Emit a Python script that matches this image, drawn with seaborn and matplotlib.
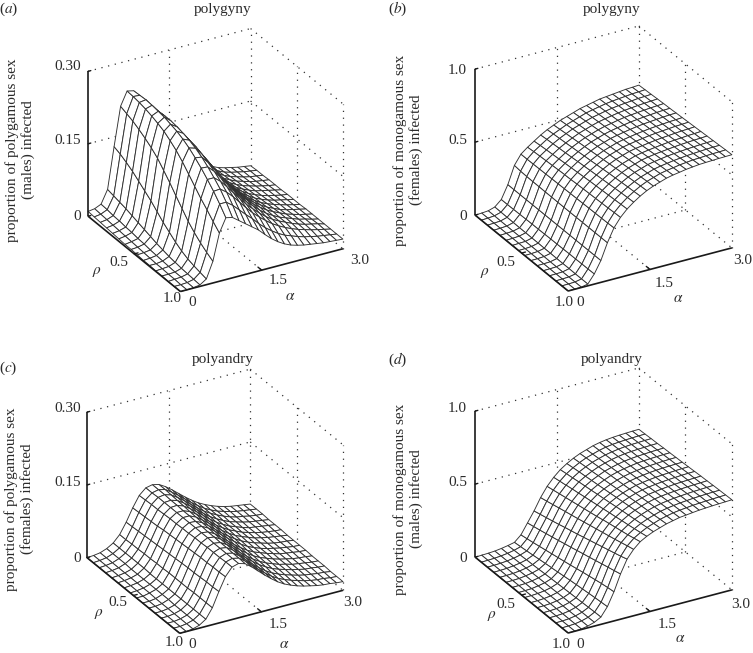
import numpy as np
import matplotlib
matplotlib.use("Agg")
import matplotlib.pyplot as plt
import seaborn as sns
from mpl_toolkits.mplot3d import proj3d

alpha_vals = [0, .12, .24, .36, .48, .60, .72, .84, .96, 1.08, 1.2, 1.32, 1.44, 1.56, 1.68, 1.8, 1.92, 2.04, 2.16, 2.28, 2.4, 2.52, 2.64, 2.76, 2.88, 3.0]
rho_vals = [0, .067, .133, .2, .267, .333, .4, .467, .533, .6, .667, .733, .8, .867, .933, 1.0]

z_a = [
[.010,.012,.018,.045,.130,.210,.238,.235,.215,.190,.165,.140,.118,.100,.085,.072,.060,.050,.042,.036,.030,.026,.023,.020,.018,.016],
[.009,.011,.017,.042,.125,.205,.237,.236,.217,.192,.167,.143,.121,.102,.087,.074,.062,.052,.044,.037,.031,.027,.024,.021,.019,.017],
[.008,.010,.015,.039,.118,.200,.235,.237,.219,.195,.170,.146,.124,.105,.089,.076,.064,.054,.045,.038,.032,.028,.024,.021,.019,.017],
[.007,.009,.014,.036,.110,.193,.232,.236,.220,.197,.173,.149,.127,.108,.091,.077,.065,.055,.046,.039,.033,.029,.025,.022,.020,.018],
[.006,.008,.012,.032,.100,.185,.228,.234,.221,.199,.176,.152,.130,.110,.093,.079,.067,.056,.047,.040,.034,.030,.026,.023,.020,.018],
[.005,.007,.011,.028,.090,.176,.223,.232,.221,.200,.178,.154,.132,.112,.095,.081,.068,.058,.048,.041,.035,.030,.027,.024,.021,.018],
[.004,.006,.009,.024,.080,.165,.217,.228,.219,.200,.178,.156,.134,.114,.097,.082,.070,.059,.050,.042,.036,.031,.027,.024,.021,.019],
[.004,.005,.008,.020,.068,.150,.208,.224,.216,.198,.177,.156,.135,.116,.098,.084,.071,.060,.051,.043,.037,.032,.028,.025,.022,.019],
[.003,.004,.006,.016,.056,.135,.198,.218,.212,.195,.175,.155,.135,.116,.099,.085,.072,.061,.052,.044,.038,.033,.029,.025,.022,.019],
[.002,.003,.005,.013,.046,.118,.185,.210,.206,.190,.171,.152,.133,.115,.099,.085,.072,.062,.053,.045,.039,.033,.029,.026,.023,.020],
[.002,.002,.004,.010,.036,.102,.170,.200,.198,.183,.165,.147,.129,.112,.097,.084,.072,.062,.053,.046,.040,.034,.030,.026,.023,.020],
[.001,.002,.003,.008,.028,.086,.155,.189,.188,.175,.158,.141,.124,.108,.094,.082,.070,.060,.052,.045,.040,.035,.030,.027,.023,.020],
[.001,.001,.002,.006,.022,.073,.140,.176,.176,.165,.150,.134,.118,.103,.090,.078,.067,.058,.051,.045,.039,.034,.030,.027,.024,.020],
[.000,.001,.002,.005,.018,.062,.127,.162,.163,.153,.140,.125,.110,.096,.084,.073,.063,.055,.048,.042,.037,.033,.029,.026,.023,.020],
[.000,.000,.001,.004,.015,.053,.113,.146,.146,.136,.123,.110,.098,.084,.072,.062,.053,.046,.041,.036,.032,.029,.026,.024,.022,.020],
[.000,.000,.001,.003,.012,.045,.100,.128,.125,.115,.105,.095,.085,.072,.060,.050,.042,.036,.032,.029,.027,.025,.023,.022,.021,.020],
]
z_b = [
[.000,.002,.006,.020,.060,.150,.270,.335,.370,.400,.430,.455,.475,.495,.510,.525,.540,.550,.560,.570,.575,.580,.585,.590,.592,.595],
[.000,.002,.006,.019,.060,.150,.265,.335,.375,.405,.435,.460,.480,.500,.515,.530,.545,.555,.564,.573,.579,.584,.588,.593,.595,.598],
[.000,.002,.005,.018,.061,.150,.263,.336,.378,.409,.439,.464,.485,.505,.520,.535,.549,.558,.568,.576,.582,.587,.591,.596,.598,.601],
[.000,.002,.005,.017,.062,.150,.262,.337,.381,.413,.443,.468,.490,.510,.525,.540,.553,.562,.571,.579,.585,.590,.594,.598,.601,.604],
[.000,.002,.005,.016,.063,.150,.262,.338,.384,.417,.447,.473,.495,.515,.530,.545,.557,.566,.575,.583,.588,.593,.597,.601,.604,.607],
[.000,.002,.005,.016,.064,.150,.261,.339,.387,.421,.451,.477,.500,.520,.535,.550,.561,.570,.578,.586,.591,.596,.600,.604,.607,.609],
[.000,.002,.004,.015,.064,.150,.261,.340,.390,.425,.456,.482,.505,.525,.540,.555,.565,.574,.582,.589,.595,.599,.603,.607,.610,.612],
[.000,.001,.004,.015,.065,.150,.260,.341,.392,.429,.460,.486,.510,.530,.545,.560,.570,.578,.586,.592,.598,.602,.606,.610,.612,.615],
[.000,.001,.004,.014,.066,.150,.260,.342,.395,.433,.464,.491,.515,.535,.550,.565,.574,.582,.589,.596,.601,.605,.609,.613,.615,.618],
[.000,.001,.004,.014,.066,.150,.260,.343,.397,.437,.468,.496,.520,.540,.555,.570,.579,.586,.593,.599,.604,.608,.612,.616,.618,.621],
[.000,.001,.003,.013,.067,.150,.260,.344,.399,.440,.472,.501,.525,.545,.560,.575,.584,.591,.597,.603,.608,.612,.615,.619,.621,.624],
[.000,.001,.003,.013,.068,.150,.260,.345,.401,.443,.476,.505,.530,.550,.565,.580,.589,.596,.602,.607,.612,.616,.619,.622,.624,.627],
[.000,.001,.003,.013,.068,.150,.260,.346,.403,.446,.480,.509,.534,.554,.569,.584,.593,.600,.607,.612,.616,.620,.623,.626,.628,.630],
[.000,.001,.003,.012,.069,.150,.260,.347,.405,.449,.484,.513,.538,.558,.573,.588,.597,.604,.611,.616,.621,.624,.627,.630,.632,.633],
[.000,.001,.003,.012,.069,.150,.260,.348,.408,.452,.487,.516,.542,.562,.577,.592,.601,.608,.616,.621,.626,.628,.631,.633,.634,.636],
[.000,.001,.003,.012,.070,.150,.260,.350,.410,.455,.490,.520,.545,.565,.580,.595,.605,.612,.620,.625,.630,.632,.634,.636,.637,.638],
]
z_c = [
[.000,.001,.003,.008,.016,.030,.052,.078,.100,.112,.115,.112,.104,.094,.083,.072,.062,.053,.046,.040,.035,.031,.028,.026,.024,.022],
[.000,.001,.003,.008,.016,.030,.053,.079,.101,.112,.115,.112,.103,.093,.082,.071,.061,.052,.045,.039,.035,.031,.028,.026,.024,.022],
[.000,.001,.003,.008,.016,.031,.054,.080,.102,.113,.115,.111,.102,.092,.081,.070,.060,.052,.045,.039,.034,.030,.028,.025,.023,.022],
[.000,.001,.003,.008,.016,.031,.055,.081,.102,.113,.114,.110,.101,.091,.080,.069,.059,.051,.044,.038,.034,.030,.027,.025,.023,.021],
[.000,.001,.003,.007,.016,.032,.056,.082,.103,.113,.114,.109,.100,.090,.079,.068,.058,.050,.043,.038,.033,.029,.027,.025,.023,.021],
[.000,.001,.003,.007,.016,.032,.057,.084,.104,.113,.113,.108,.099,.088,.077,.066,.057,.049,.043,.037,.033,.029,.026,.024,.022,.021],
[.000,.001,.003,.007,.015,.033,.058,.085,.104,.113,.113,.107,.097,.087,.076,.065,.056,.048,.042,.037,.032,.029,.026,.024,.022,.020],
[.000,.001,.003,.007,.015,.033,.059,.086,.105,.113,.112,.106,.096,.085,.074,.064,.055,.047,.041,.036,.032,.028,.025,.023,.022,.020],
[.000,.000,.003,.007,.015,.034,.060,.087,.105,.113,.112,.105,.095,.084,.073,.063,.054,.046,.040,.035,.031,.028,.025,.023,.021,.020],
[.000,.000,.002,.007,.015,.034,.061,.088,.106,.113,.111,.104,.093,.082,.071,.061,.052,.045,.040,.035,.031,.027,.025,.023,.021,.020],
[.000,.000,.002,.007,.015,.034,.062,.089,.106,.113,.111,.103,.092,.081,.070,.060,.051,.044,.039,.034,.030,.027,.024,.022,.021,.019],
[.000,.000,.002,.006,.015,.034,.062,.090,.107,.112,.110,.102,.091,.079,.068,.058,.050,.043,.038,.033,.030,.026,.024,.022,.020,.019],
[.000,.000,.002,.006,.015,.035,.063,.090,.107,.112,.110,.101,.089,.078,.067,.057,.049,.042,.037,.033,.029,.026,.023,.022,.020,.019],
[.000,.000,.002,.006,.015,.035,.064,.091,.107,.112,.109,.100,.088,.076,.065,.055,.047,.041,.036,.032,.028,.025,.023,.021,.020,.018],
[.000,.000,.002,.006,.015,.035,.064,.091,.108,.112,.109,.099,.087,.075,.064,.054,.046,.040,.035,.031,.027,.024,.022,.021,.019,.018],
[.000,.000,.002,.006,.015,.035,.065,.092,.108,.112,.108,.098,.086,.074,.063,.053,.045,.039,.034,.030,.027,.024,.022,.021,.019,.018],
]
z_d = [
[.000,.001,.003,.006,.012,.020,.030,.070,.140,.210,.290,.355,.405,.445,.475,.500,.520,.535,.550,.560,.567,.572,.575,.577,.579,.580],
[.000,.001,.003,.007,.013,.022,.035,.078,.150,.222,.300,.364,.413,.452,.481,.505,.525,.539,.553,.563,.570,.574,.577,.579,.581,.582],
[.000,.001,.003,.007,.014,.024,.040,.086,.160,.233,.311,.373,.420,.458,.487,.510,.529,.543,.556,.565,.572,.577,.580,.582,.584,.585],
[.000,.001,.003,.008,.015,.026,.046,.095,.171,.245,.322,.382,.428,.465,.492,.514,.533,.547,.559,.568,.575,.579,.582,.584,.586,.587],
[.000,.001,.003,.008,.016,.028,.052,.104,.182,.257,.333,.391,.435,.471,.498,.519,.538,.551,.562,.571,.577,.581,.584,.587,.589,.590],
[.000,.001,.003,.009,.017,.030,.058,.113,.193,.270,.343,.400,.443,.477,.503,.524,.542,.555,.565,.573,.580,.584,.587,.589,.591,.592],
[.000,.001,.003,.009,.018,.033,.064,.122,.205,.282,.354,.409,.450,.484,.509,.529,.546,.559,.569,.576,.582,.586,.589,.592,.594,.595],
[.000,.001,.003,.010,.019,.035,.070,.131,.216,.294,.365,.418,.458,.490,.514,.534,.550,.563,.572,.579,.585,.589,.592,.594,.596,.597],
[.000,.001,.004,.010,.020,.037,.076,.140,.228,.307,.376,.427,.465,.496,.520,.539,.554,.567,.575,.582,.587,.591,.594,.597,.599,.600],
[.000,.001,.004,.010,.021,.039,.082,.150,.240,.320,.387,.437,.473,.503,.526,.544,.559,.571,.579,.585,.590,.594,.597,.600,.602,.603],
[.000,.001,.004,.011,.022,.041,.087,.160,.251,.333,.398,.446,.480,.509,.531,.549,.563,.575,.582,.588,.593,.597,.600,.602,.604,.606],
[.000,.001,.004,.011,.023,.043,.092,.169,.263,.346,.409,.455,.488,.515,.536,.553,.567,.578,.585,.591,.595,.599,.602,.604,.606,.608],
[.000,.001,.004,.011,.024,.045,.097,.178,.275,.359,.420,.464,.495,.521,.541,.557,.571,.581,.588,.594,.598,.602,.605,.607,.609,.611],
[.000,.001,.004,.012,.025,.047,.102,.187,.287,.372,.432,.473,.503,.527,.546,.561,.575,.584,.591,.597,.601,.605,.608,.610,.612,.613],
[.000,.001,.004,.012,.025,.049,.106,.194,.298,.385,.444,.484,.511,.534,.550,.566,.577,.587,.593,.598,.603,.606,.609,.611,.613,.615],
[.000,.001,.004,.012,.026,.050,.110,.200,.310,.400,.455,.495,.520,.540,.555,.570,.580,.590,.595,.600,.605,.608,.611,.613,.615,.617],
]

alpha_ticks = [0, 1.5, 3.0]
rho_ticks = [0, 0.5, 1.0]
z_ticks_poly = [0, 0.15, 0.30]
z_ticks_mono = [0, 0.5, 1.0]
z_labels_poly = ["0", "0.15", "0.30"]
z_labels_mono = ["0", "0.5", "1.0"]
panel_tags = ["(a)", "(b)", "(c)", "(d)"]
panel_titles = ["polygyny", "polygyny", "polyandry", "polyandry"]
y_labels = [
    "proportion of polygamous sex\n(males) infected",
    "proportion of monogamous sex\n(females) infected",
    "proportion of polygamous sex\n(females) infected",
    "proportion of monogamous sex\n(males) infected",
]

W, H = 753, 653
sns.set_theme(style="white", context="paper")
plt.rcParams["font.family"] = ["Liberation Serif", "DejaVu Serif"]
plt.rcParams["mathtext.fontset"] = "stix"
FS = 11
INK = "#2b2b2b"

fig = plt.figure(figsize=(W / 100, H / 100), dpi=100, facecolor="white")


def txt(x, y, s, **kw):
    kw.setdefault("ha", "center")
    kw.setdefault("va", "center")
    fig.text(x / W, 1 - y / H, s, fontsize=FS, color=INK, **kw)


def to_px(ax, a, r, z):
    x, y, _ = proj3d.proj_transform(a, r, z, ax.get_proj())
    px = ax.transData.transform((x, y))
    return np.array([px[0], H - px[1]])


def draw_panel(Z, zticks, zlabels, tag, title, ylabel, L, R, lay):
    zmax = zticks[-1]
    side = 430
    ax = fig.add_axes([(L[0] - 30) / W, 1 - (L[1] + 200) / H, side / W, side / H],
                      projection="3d", computed_zorder=False)
    ax.set_axis_off()
    ax.patch.set_alpha(0)
    ax.set_proj_type("ortho")
    ax.view_init(elev=27.6, azim=-119.6)
    ax.set_xlim(0, 3, view_margin=0)
    ax.set_ylim(1, 0, view_margin=0)
    ax.set_zlim(0, zmax, view_margin=0)
    ax.set_box_aspect((1, 1, 0.875), zoom=1.0)

    # fit the box corners to the wanted pixels
    fig.canvas.draw()
    d0 = np.linalg.norm(to_px(ax, 3, 1, 0) - to_px(ax, 0, 0, 0))
    ax.set_box_aspect((1, 1, 0.875), zoom=np.linalg.norm(np.array(R) - np.array(L)) / d0)
    fig.canvas.draw()
    mid = (to_px(ax, 3, 1, 0) + to_px(ax, 0, 0, 0)) / 2
    want = (np.array(L) + np.array(R)) / 2
    shift = want - mid
    p = ax.get_position()
    ax.set_position([p.x0 + shift[0] / W, p.y0 - shift[1] / H, p.width, p.height])

    X, Y = np.meshgrid(alpha_vals, rho_vals)
    dot = dict(color="#333333", lw=0.9, ls=(0, (1, 4.5)), zorder=1)
    a1, am, a3 = alpha_ticks
    r0, rm, r1 = rho_ticks
    for zv in zticks[1:]:
        ax.plot([a1, a3], [r0, r0], [zv, zv], **dot)
        ax.plot([a3, a3], [r0, r1], [zv, zv], **dot)
    for av in (am, a3):
        ax.plot([av, av], [r0, r0], [0, zmax], **dot)
    for rv in (rm, r1):
        ax.plot([a3, a3], [rv, rv], [0, zmax], **dot)
    ax.plot([am, am], [r0, r1], [0, 0], **dot)
    ax.plot([a1, a3], [rm, rm], [0, 0], **dot)
    ax.plot([a1, a3], [r0, r0], [0, 0], **dot)
    ax.plot([a3, a3], [r0, r1], [0, 0], **dot)

    ax.plot_surface(X, Y, np.array(Z), rstride=1, cstride=1, color="white", edgecolor="#303030",
                    linewidth=0.65, shade=False, antialiased=True, zorder=2)

    solid = dict(color="#1a1a1a", lw=1.2, zorder=3, solid_capstyle="butt")
    ax.plot([a1, a1], [r0, r0], [0, zmax], **solid)
    ax.plot([a1, a1], [r0, r1], [0, 0], **solid)
    ax.plot([a1, a3], [r1, r1], [0, 0], **solid)
    tick = dict(color="#1a1a1a", lw=1.0, zorder=3)
    for zv in zticks:
        ax.plot([a1, a1 + 0.05], [r0, r0 + 0.0], [zv, zv], **tick)
    ax.plot([am, am], [r1, r1 - 0.04], [0, 0], **tick)
    ax.plot([a1, a1 + 0.07], [rm, rm], [0, 0], **tick)

    for lab, yy in zip(zlabels, lay["z"]):
        txt(lay["zx"], yy, lab, ha="right")
    txt(*lay["r05"], "0.5")
    txt(*lay["r10"], "1.0")
    txt(*lay["a0"], "0")
    txt(*lay["a15"], "1.5")
    txt(*lay["a30"], "3.0")
    txt(*lay["rho"], r"$\rho$")
    txt(*lay["alpha"], r"$\alpha$")
    txt(*lay["title"], title)
    letter = tag.strip("()")
    txt(*lay["tag"], "($%s$)" % letter)
    txt(*lay["yl"], ylabel, rotation=90, multialignment="center", linespacing=1.15)


layouts = [
    dict(L=(88, 217), R=(343, 248), z=(217, 140, 67), zx=81, r05=(119, 263), r10=(172, 299), a0=(192, 302),
         a15=(278, 281), a30=(360, 261), rho=(97, 272), alpha=(290, 297), title=(223, 9), tag=(9, 9), yl=(20, 150)),
    dict(L=(475, 216), R=(732, 247), z=(217, 140, 70), zx=467, r05=(506, 263), r10=(564, 302), a0=(580, 302),
         a15=(664, 283), a30=(743, 261), rho=(485, 273), alpha=(678, 299), title=(612, 9), tag=(398, 9), yl=(408, 150)),
    dict(L=(87, 558), R=(343, 590), z=(558, 483, 409), zx=81, r05=(118, 602), r10=(174, 642), a0=(192, 645),
         a15=(278, 624), a30=(353, 603), rho=(99, 614), alpha=(284, 644), title=(223, 360), tag=(8, 368), yl=(19, 499)),
    dict(L=(475, 558), R=(732, 589), z=(558, 483, 409), zx=467, r05=(506, 605), r10=(561, 644), a0=(580, 644),
         a15=(667, 624), a30=(741, 604), rho=(492, 616), alpha=(680, 638), title=(612, 360), tag=(398, 360), yl=(408, 499)),
]

surfaces = [z_a, z_b, z_c, z_d]
zt = [z_ticks_poly, z_ticks_mono, z_ticks_poly, z_ticks_mono]
zl = [z_labels_poly, z_labels_mono, z_labels_poly, z_labels_mono]
for i in range(4):
    lay = layouts[i]
    draw_panel(surfaces[i], zt[i], zl[i], panel_tags[i], panel_titles[i], y_labels[i], lay["L"], lay["R"], lay)

fig.savefig("out.png", dpi=100, facecolor="white")
